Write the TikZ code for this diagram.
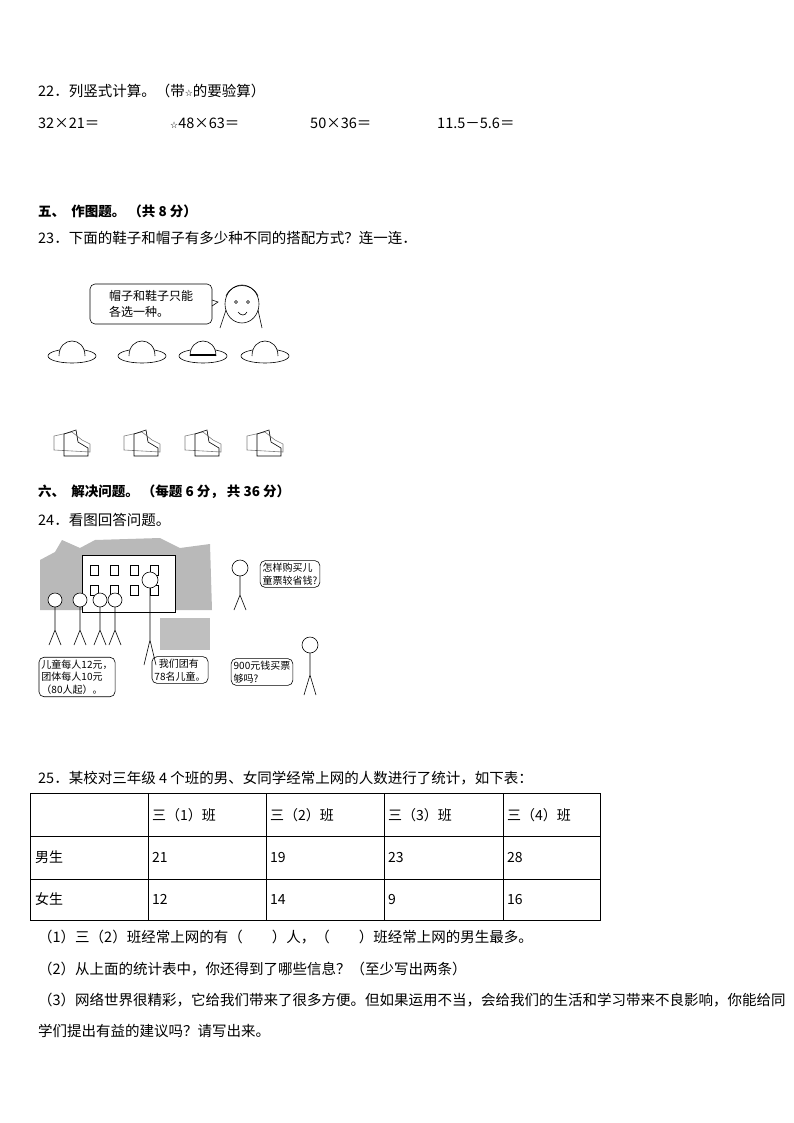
\documentclass[tikz,border=0pt]{standalone}
\usepackage{fontspec}
\setmainfont{Liberation Serif}
\newfontfamily\cjk{Noto Sans CJK SC}
\newfontfamily\sym{DejaVu Sans}
\begin{document}
\begin{tikzpicture}[x=1pt,y=-1pt,
  txt/.style={anchor=west,inner sep=0pt,font=\cjk\fontsize{14.5}{17}\selectfont},
  btxt/.style={txt,font=\cjk\bfseries\fontsize{13.5}{17}\selectfont},
  cell/.style={anchor=west,inner sep=0pt,font=\cjk\fontsize{14}{17}\selectfont},
  pic/.style={line width=0.6pt},
  bubble/.style={draw,rounded corners=5pt,line width=0.6pt,align=left,font=\cjk\fontsize{10}{12.5}\selectfont,inner sep=2.5pt}]
\useasboundingbox (0,0) rectangle (794,1123);
\node[txt] (q22) at (38,91) {22．列竖式计算。（带{\sym\small ☆}的要验算）};
\node[txt] (e1) at (38,123) {32×21＝};
\node[txt] (e2) at (170,123) {{\sym\small ☆}48×63＝};
\node[txt] (e3) at (310,123) {50×36＝};
\node[txt] (e4) at (437,123) {11.5－5.6＝};
\node[btxt] (s5) at (38,211) {五、\ \ 作图题。\ （共 8 分）};
\node[txt] (q23) at (38,238) {23．下面的鞋子和帽子有多少种不同的搭配方式？连一连．};
% speech bubble and girl
\node[bubble,minimum width=122pt,minimum height=40pt,font=\cjk\fontsize{12}{16}\selectfont] (b0) at (151,304) {帽子和鞋子只能\\各选一种。};
\draw[pic] (212,300) -- (218,302) -- (212,306);
\draw[pic] (242,304) ellipse (17 and 19);
\draw[pic] (226,296) .. controls (232,282) and (252,282) .. (258,296);
\draw[pic] (236,302) circle (1.5) (248,302) circle (1.5);
\draw[pic] (238,312) .. controls (241,316) and (245,316) .. (247,312);
\draw[pic] (226,310) -- (220,328) (258,310) -- (262,328);
% hats
\foreach \x in {72,142,203,265}{
  \draw[pic] (\x,356) ellipse (24 and 7);
  \draw[pic,fill=white] (\x-13,356) .. controls (\x-13,336) and (\x+13,336) .. (\x+13,356);
}
\draw[pic,line width=1.3pt] (190,355) -- (216,355);
% shoes
\foreach \x in {72,142,203,265}{
  \draw[pic,gray] (\x-18,450) -- (\x-18,436) -- (\x,432) -- (\x+10,440) -- (\x+18,444) -- (\x+18,452) -- cycle;
  \draw[pic] (\x-8,446) -- (\x-8,434) -- (\x+4,430) -- (\x+6,442) -- (\x+16,448) -- (\x+16,456) -- (\x-8,456) -- cycle;
}
\node[btxt] (s6) at (38,492) {六、\ \ 解决问题。\ （每题 6 分，\ 共 36 分）};
\node[txt] (q24) at (38,520) {24．看图回答问题。};
% comic
\fill[gray!55] (40,610) -- (40,560) -- (55,552) -- (62,540) -- (80,548) -- (95,540) -- (160,538) -- (180,548) -- (210,544) -- (212,610) -- cycle;
\fill[white] (82,555) rectangle (175,612);
\draw[pic] (82,555) rectangle (175,612);
\foreach \wx in {90,110,130,150}{\draw[pic] (\wx,565) rectangle (\wx+8,575) (\wx,585) rectangle (\wx+8,595);}
\fill[gray!50] (160,618) rectangle (210,650);
\foreach \px in {55,80,100,115}{\draw[pic,fill=white] (\px,600) circle (7); \draw[pic] (\px,607) -- (\px,630) (\px-6,645) -- (\px,630) -- (\px+6,645);}
\draw[pic,fill=white] (150,580) circle (8); \draw[pic] (150,588) -- (150,640) (144,665) -- (150,640) -- (156,665);
\draw[pic] (240,568) circle (8); \draw[pic] (240,576) -- (240,595) (234,610) -- (240,595) -- (246,610);
\draw[pic] (310,645) circle (8); \draw[pic] (310,653) -- (310,675) (304,695) -- (310,675) -- (316,695);
\node[bubble] (b1) at (290,574) {怎样购买儿\\童票较省钱?};
\node[bubble] (b2) at (77,677) {儿童每人12元，\\团体每人10元\\（80人起）。};
\node[bubble] (b3) at (180,670) {\ \ 我们团有\\78名儿童。};
\node[bubble] (b4) at (262,672) {900元钱买票\\够吗?};
\node[txt] (q25) at (38,778) {25．某校对三年级 4 个班的男、女同学经常上网的人数进行了统计，如下表：};
% table
\draw[line width=0.8pt] (30,793) rectangle (600,920);
\foreach \yy in {836,879}{\draw[line width=0.8pt] (30,\yy) -- (600,\yy);}
\foreach \xx in {148,266,384,503}{\draw[line width=0.8pt] (\xx,793) -- (\xx,920);}
\node[cell] (h1) at (152,815) {三（1）班};
\node[cell] (h2) at (270,815) {三（2）班};
\node[cell] (h3) at (388,815) {三（3）班};
\node[cell] (h4) at (507,815) {三（4）班};
\node[cell] (r1) at (35,857) {男生};
\node[cell] at (152,857) {21};\node[cell] at (270,857) {19};\node[cell] at (388,857) {23};\node[cell] at (507,857) {28};
\node[cell] (r2) at (35,899) {女生};
\node[cell] at (152,899) {12};\node[cell] at (270,899) {14};\node[cell] at (388,899) {9};\node[cell] at (507,899) {16};
\node[txt] (p1) at (38,937) {（1）三（2）班经常上网的有（\qquad ）人，（\qquad ）班经常上网的男生最多。};
\node[txt] (p2) at (38,969) {（2）从上面的统计表中，你还得到了哪些信息？（至少写出两条）};
\node[txt] (p3) at (38,1000) {（3）网络世界很精彩，它给我们带来了很多方便。但如果运用不当，会给我们的生活和学习带来不良影响，你能给同};
\node[txt] (p4) at (38,1031) {学们提出有益的建议吗？请写出来。};
\end{tikzpicture}
\end{document}
